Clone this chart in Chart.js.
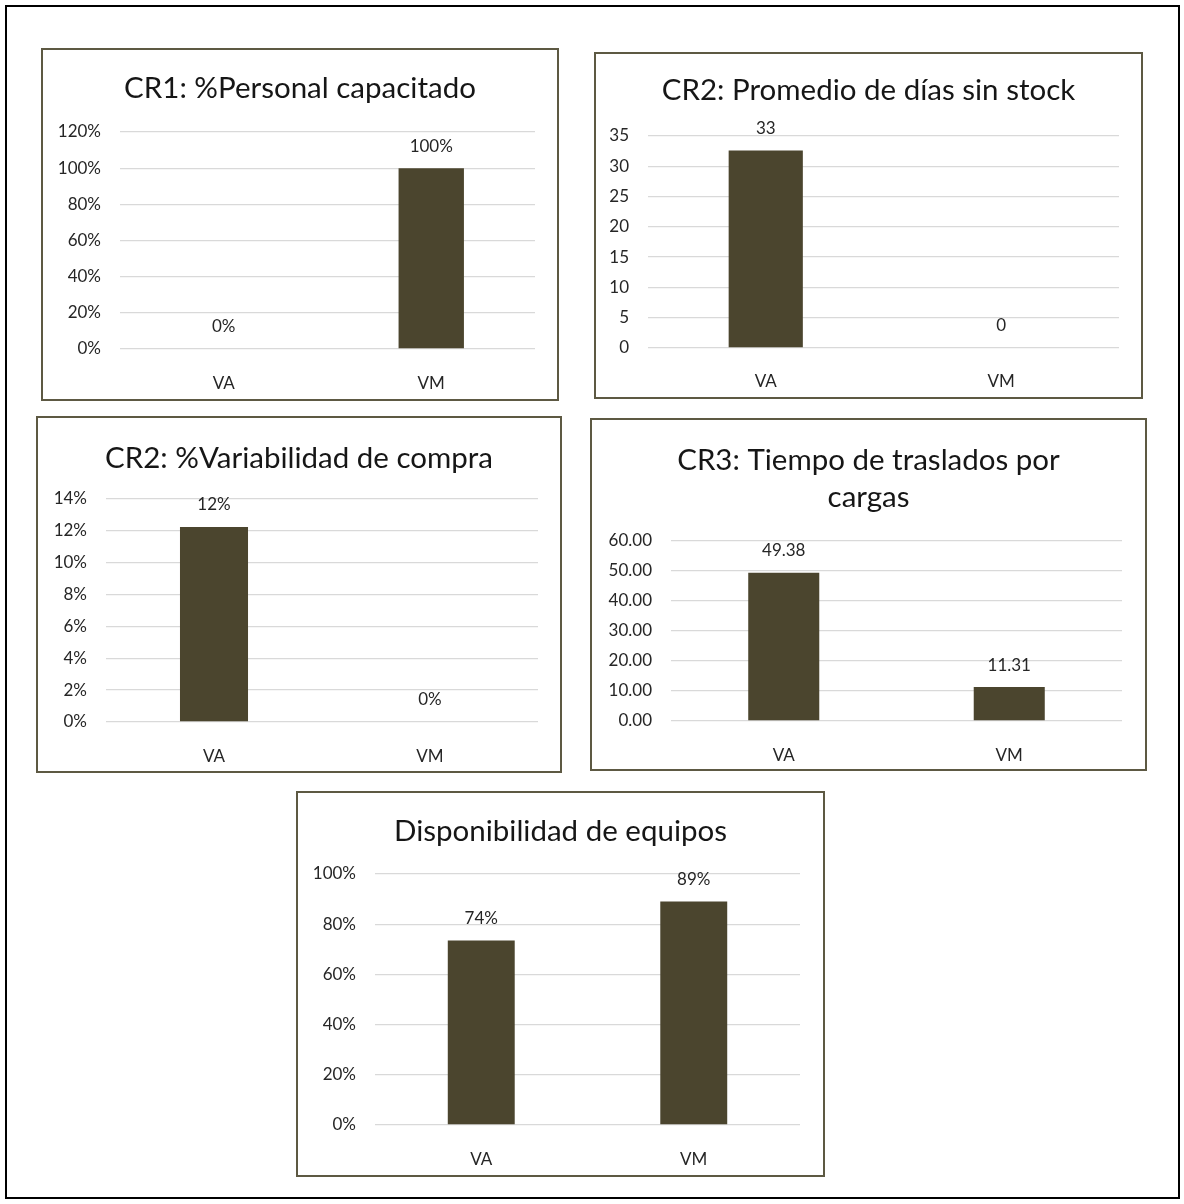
<!DOCTYPE html>
<html lang="es">
<head>
<meta charset="utf-8">
<title>Indicadores VA / VM</title>
<script src="https://cdn.jsdelivr.net/npm/chart.js@4.4.1/dist/chart.umd.min.js"></script>
<style>
  html, body { margin: 0; padding: 0; background: #fff; }
  body { width: 1184px; height: 1204px; position: relative; overflow: hidden; }
  .frame { position: absolute; left: 5px; top: 5px; width: 1175px; height: 1194px; border: 2px solid #000; box-sizing: border-box; }
  .box { position: absolute; border: 2px solid #5d5943; box-sizing: border-box; pointer-events: none; }
  canvas { position: absolute; }
</style>
</head>
<body>
<div class="frame"></div>

<script>
// datos
const categories = ['VA', 'VM'];
const personalCapacitado = [0, 1.00];
const diasSinStock = [32.6, 0];
const variabilidadCompra = [0.1225, 0];
const tiempoTraslados = [49.38, 11.31];
const disponibilidadEquipos = [0.735, 0.89];

const pct = v => Math.round(v * 100) + '%';
const entero = v => String(Math.round(v));
const dosDec = v => Number(v).toFixed(2);

const FONT = 'Lato, Carlito, Calibri, sans-serif';
const BAR = '#4b452e';
const TXT = '#262626';

// paneles: caja (px de pagina) y area de trazado relativa a la caja
const panels = [
  { id: 'c1', title: 'CR1: %Personal capacitado', values: personalCapacitado, max: 1.2, step: 0.2, tick: pct, label: pct,
    box: [41, 48, 518, 353], plot: [79, 84, 494, 301], titleY: 40, lineH: 34, xLabelY: 328 },
  { id: 'c2', title: 'CR2: Promedio de días sin stock', values: diasSinStock, max: 35, step: 5, tick: entero, label: entero,
    box: [594, 52, 549, 347], plot: [54, 84, 525, 296], titleY: 38, lineH: 34, xLabelY: 322 },
  { id: 'c3', title: 'CR2: %Variabilidad de compra', values: variabilidadCompra, max: 0.14, step: 0.02, tick: pct, label: pct,
    box: [36, 416, 526, 357], plot: [70, 83, 502, 306], titleY: 42, lineH: 34, xLabelY: 333 },
  { id: 'c4', title: ['CR3: Tiempo de traslados por', 'cargas'], values: tiempoTraslados, max: 60, step: 10, tick: dosDec, label: dosDec,
    box: [590, 418, 557, 353], plot: [81, 123, 532, 303], titleY: 42, lineH: 37, xLabelY: 330 },
  { id: 'c5', title: 'Disponibilidad de equipos', values: disponibilidadEquipos, max: 1, step: 0.2, tick: pct, label: pct,
    box: [296, 791, 529, 386], plot: [79, 83, 504, 334], titleY: 40, lineH: 34, xLabelY: 361 }
];

function valueLabels(fmt) {
  return {
    id: 'valueLabels',
    afterDatasetsDraw(chart) {
      const ctx = chart.ctx;
      const meta = chart.getDatasetMeta(0);
      const data = chart.data.datasets[0].data;
      ctx.save();
      ctx.font = '17px ' + FONT;
      ctx.fillStyle = TXT;
      ctx.textAlign = 'center';
      ctx.textBaseline = 'middle';
      meta.data.forEach((bar, i) => {
        ctx.fillText(fmt(data[i]), bar.x, bar.y - 22);
      });
      ctx.restore();
    }
  };
}

// el titulo se centra en toda la caja, no solo en el area con padding
const centerTitle = {
  id: 'centerTitle',
  afterLayout(chart) {
    const t = chart.titleBlock;
    if (t) {
      t.left = 0;
      t.right = chart.width;
      t.width = chart.width;
    }
  }
};

function drawPanel(p) {
  const [bx, by, bw, bh] = p.box;
  const [L, T, R, B] = p.plot;

  const canvas = document.createElement('canvas');
  canvas.id = p.id;
  canvas.width = bw;
  canvas.height = bh;
  canvas.style.left = bx + 'px';
  canvas.style.top = by + 'px';
  canvas.style.width = bw + 'px';
  canvas.style.height = bh + 'px';
  document.body.appendChild(canvas);

  const border = document.createElement('div');
  border.className = 'box';
  border.style.left = bx + 'px';
  border.style.top = by + 'px';
  border.style.width = bw + 'px';
  border.style.height = bh + 'px';
  document.body.appendChild(border);

  const lines = Array.isArray(p.title) ? p.title.length : 1;
  const titleSize = 29.5;
  const padTop = p.titleY - p.lineH / 2;
  const titleBottom = T - (padTop + lines * p.lineH);
  const tickSize = 17;
  const xPad = p.xLabelY - B - tickSize * 1.2 / 2;

  new Chart(canvas.getContext('2d'), {
    type: 'bar',
    data: {
      labels: categories,
      datasets: [{
        data: p.values,
        backgroundColor: BAR,
        borderWidth: 0,
        barPercentage: 0.315,
        categoryPercentage: 1
      }]
    },
    options: {
      responsive: false,
      animation: false,
      devicePixelRatio: 1,
      layout: { padding: { left: 4, right: bw - R, top: padTop, bottom: 0 } },
      plugins: {
        legend: { display: false },
        tooltip: { enabled: false },
        title: {
          display: true,
          text: p.title,
          color: '#161616',
          font: { family: FONT, size: titleSize, weight: 'normal', lineHeight: p.lineH / titleSize },
          padding: { top: 0, bottom: titleBottom }
        }
      },
      scales: {
        x: {
          grid: { display: false },
          border: { display: false },
          ticks: { color: TXT, font: { family: FONT, size: tickSize }, padding: xPad, maxRotation: 0 },
          afterFit: s => { s.height = bh - B; }
        },
        y: {
          min: 0,
          max: p.max,
          grid: { color: '#d9d9d9', lineWidth: 1.3, drawTicks: false },
          border: { display: false },
          ticks: {
            stepSize: p.step,
            color: TXT,
            font: { family: FONT, size: tickSize },
            padding: 19,
            callback: v => p.tick(v)
          },
          afterFit: s => { s.width = L - 4; }
        }
      }
    },
    plugins: [valueLabels(p.label), centerTitle]
  });
}

document.fonts.load('17px Lato').then(() => {
  panels.forEach(drawPanel);
});
</script>
</body>
</html>
